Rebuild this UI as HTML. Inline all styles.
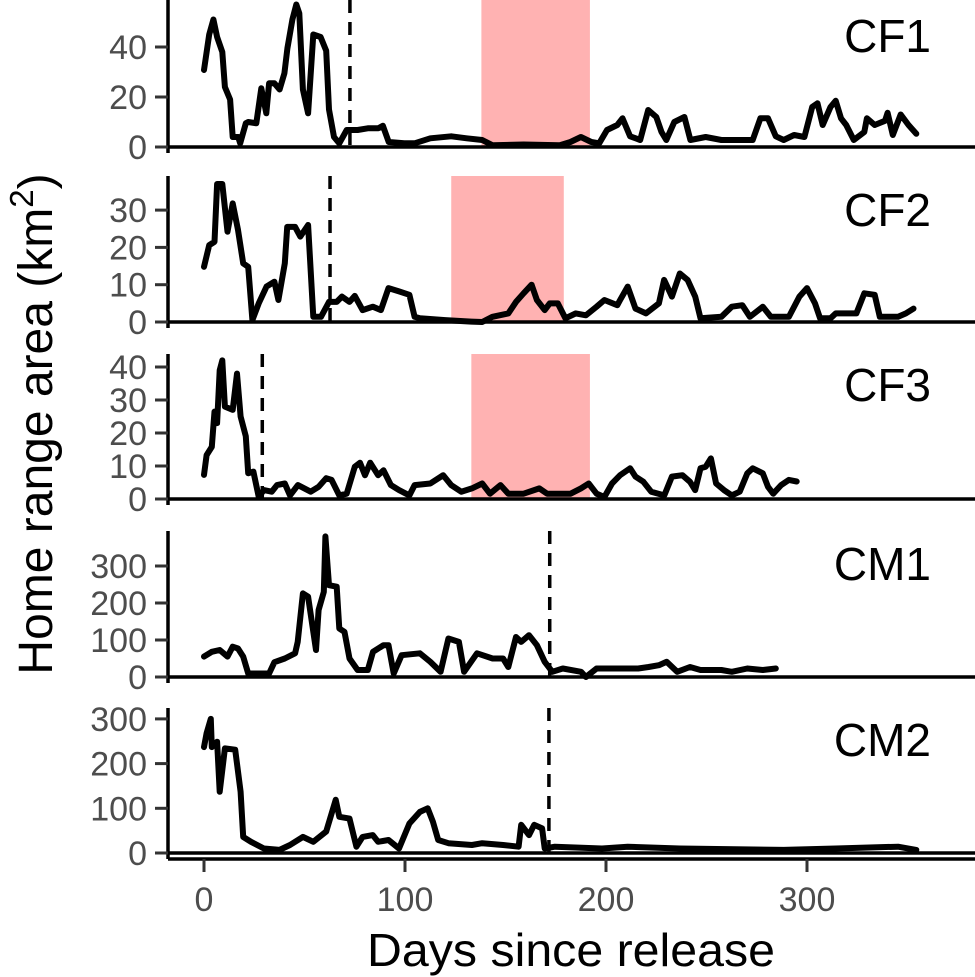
<!DOCTYPE html>
<html><head><meta charset="utf-8"><style>
html,body{margin:0;padding:0;background:#fff;}
svg{display:block;font-family:"Liberation Sans",Arial,sans-serif;}
</style></head><body>
<svg id="chart" width="975" height="977" viewBox="0 0 975 977" xmlns="http://www.w3.org/2000/svg"></svg>
<script>
const cf1Days=[0,2.6,4.7,6.5,9.1,10.4,13,14.3,17,18,20.8,22,26,28.5,31,32.4,35,37.6,40,41.5,44,45.9,47.4,49.2,51.8,54.4,58,60.8,62.2,64.7,67.3,71,76.4,81.5,86.7,89,91.9,99.6,104.8,112.6,123,130.7,138.4,143.6,159,177,182.3,187.5,192.7,196.6,200.5,205.6,208.2,212,217,221,225,227.6,230,234,239,242,249.6,257.4,273,276.8,280.6,284.5,288.4,293.6,298.7,302.6,305.2,307.8,311.7,314.3,316.9,319.5,323.3,328.5,329.8,333.7,338.8,340.1,342.7,346.6,350.5,354.4];
const cf1Vals=[30.8,45,51,44,38,24,19,4,4,1.5,9.5,10,9.5,23.5,13.5,25.5,25.5,23,29.5,39.5,51,57,53.5,23,13.5,45,44,38.5,15,4,1.5,6.8,6.8,7.5,7.5,8.5,2,1.5,1.5,3.5,4.3,3.5,2.8,0.7,1,0.7,2,4,2,1.5,6.8,8.8,11.5,4.3,2.8,14.8,12,6,2.8,10,12,2.8,4,2.8,2.8,11.5,11.5,4.3,2.8,4.8,4,16,17.5,8.8,16,18.5,11.5,8.8,2.8,6,11.5,8.8,10.5,13.7,4.8,13,8.8,5.3];
const cf2Days=[0,2.6,5.2,6.5,9.1,11.7,14.3,16.9,19.5,22,24.1,27.2,31.1,35,37,40.2,41.4,45.3,47.9,51.8,54.4,58.2,62.2,66,68.6,72.4,75,78.9,84,88,91.8,97,102.2,104.8,107.4,120,133,138.4,143.5,151.4,155.2,159,163,165.6,169.5,172,176,179.8,185,190,195.3,199.2,205.6,207,210.8,214.7,219.9,226.3,228.9,232.8,236.7,240.6,244.4,247,257.4,262.6,267.8,271.6,278,282,291,296.2,300,304,306.5,311.7,314.3,324.6,328.5,333.7,336.2,345.3,349.2,353];
const cf2Vals=[14.8,20.6,21.5,37,37,24.2,31.8,24.7,15.7,14.8,0.5,5,9.5,10.8,5.9,15.7,25.5,25.5,22.9,26,1.4,1.4,5.4,5.4,6.8,5.4,7,3.2,4.1,3.2,9.1,8.2,7.3,1.4,1,0.5,0.1,0,1.4,2.3,5.4,7.7,10,5.9,3.2,5,5,1,2.3,1.8,4.1,5.9,4.5,5.9,9.5,3.6,2.3,5,11.3,6.8,13,11.3,6.8,1,1.4,4.1,4.5,1.4,4.1,1.4,1.4,6.8,9.1,5,1,1,2.3,2.3,7.7,7.3,1.4,1.4,2.3,3.6];
const cf3Days=[0,1.3,3.9,5.2,6.5,7.8,9.1,10.4,14.3,16.4,18.2,20.8,22,24.6,27.2,29.8,33.7,36.3,40.2,42.8,46.7,53.1,57,60.8,63.5,67.3,71,75,77.6,80.1,82.7,86.6,89.3,93,97,102.2,104.8,112.6,119,123,128,133.3,138.4,142.3,147.5,151.4,159,166.8,170.7,182.4,187.5,191.4,195.3,199.2,203,207,212,214.7,218.6,222.5,229,232.8,238,241.8,244.4,247,249.6,252.2,254.8,258.7,262.6,266.5,270.3,273,278,280.6,283.2,287.1,291,294.9];
const cf3Vals=[7.3,13.3,15.8,26.5,23,39,42,28,27,38,25,19,7.8,8.3,0.7,2.7,2.2,4.2,4.7,1.1,4.2,2.2,3.7,6.3,5.8,1.1,1.6,9.8,11,7.2,11,7.2,8.7,4.2,2.7,1.1,4.2,4.7,7.2,4.2,2.2,3.2,4.7,1.6,4.2,1.6,1.6,3.2,1.6,1.6,3.2,4.7,1.6,0.6,4.7,7.2,9.3,6.8,5.2,2.2,1.1,6.8,7.2,5.2,2.7,9.3,9.8,12.3,4.7,2.7,1.1,2.2,7.8,9.3,7.8,3.7,1.6,4.2,5.8,5.3];
const cm1Days=[0,3.9,7.8,11.7,14.3,16.9,19.5,22,32.4,35,40.2,45.3,46.6,49.2,51.8,55.7,57,59.6,60.4,62.2,66,67.3,69.9,72.4,76.4,81.5,84.1,89.3,91.8,94.4,98.3,107.4,112.6,117.7,121.6,126.8,129.4,135.8,143.6,148.8,151.4,155.2,157.8,161.7,165.6,169.5,173.3,178.5,187.6,190,195.3,205.6,216,221.2,226.3,230.2,235.4,241.8,247,257.4,262.6,270.3,278,284.5];
const cm1Vals=[55,68,73,55,82,77,55,9.5,9.5,40,50,64,95,226,217,73,181,230,380,248,244,131,122,50,19,19,68,86,86,9.5,59,64,41,14,104,95,14,64,50,50,27,108,95,113,86,41,14,23,14,0,23,23,23,27,32,41,14,27,19,19,14,23,19,23];
const cm2Days=[0,1.3,3.4,3.9,6.5,7.8,10.4,15.5,18.2,19.5,23.4,29.8,37.6,42.8,49.2,54.4,60.8,65.5,67.3,72.4,75.8,78.9,84,86.6,91.8,97,102.2,107.4,111.3,113.9,116.5,121.6,133.3,138.4,148.8,156.5,157.8,161.7,164.3,168.2,169.5,174.6,198,210.8,236.7,288.4,314.3,345.3,354.4];
const cm2Vals=[237,268,300,237,249,137,234,231,137,36,25,10,7,18,36,25,48,119,81,77,14,36,40,25,29,10,66,92,100,70,29,22,18,22,18,14,63,40,63,55,10,14,10,14,10,7,10,14,7];
const xTicks=[0,100,200,300];
const panelNames=["CF1","CF2","CF3","CM1","CM2"];
const cf1Ticks=[0,20,40], cf2Ticks=[0,10,20,30], cf3Ticks=[0,10,20,30,40], cm1Ticks=[0,100,200,300], cm2Ticks=[0,100,200,300];
const shadeStart=[138,123,133], shadeEnd=[192,179,192];
const dashDays=[72.6,62.7,29,172,171.6];

const NS="http://www.w3.org/2000/svg";
const svg=document.getElementById('chart');
function mk(tag,attrs,parent){const e=document.createElementNS(NS,tag);for(const k in attrs)e.setAttribute(k,attrs[k]);(parent||svg).appendChild(e);return e;}
const xPos=d=>204+2.01*d;
const panels=[
 {top:0,bottom:147,k:2.5,days:cf1Days,vals:cf1Vals,ticks:cf1Ticks,ly:52},
 {top:176,bottom:322,k:3.73,days:cf2Days,vals:cf2Vals,ticks:cf2Ticks,ly:226},
 {top:354,bottom:499,k:3.3,days:cf3Days,vals:cf3Vals,ticks:cf3Ticks,ly:401},
 {top:531,bottom:677,k:0.37,days:cm1Days,vals:cm1Vals,ticks:cm1Ticks,ly:580},
 {top:708,bottom:853,k:0.447,days:cm2Days,vals:cm2Vals,ticks:cm2Ticks,ly:756}
];
panels.forEach((p,i)=>{
  const g=mk('g',{});
  
  
  const yPos=v=>p.bottom-p.k*v;
  if(i<3){
    const r=mk('rect',{x:xPos(shadeStart[i]),y:p.top,width:xPos(shadeEnd[i])-xPos(shadeStart[i]),height:p.bottom-p.top,fill:'#ffb2b2'},g);
    
    
  }
  let d='';
  p.days.forEach((dd,j)=>{d+=(j?'L':'M')+xPos(dd).toFixed(1)+','+yPos(p.vals[j]).toFixed(1);});
  const path=mk('path',{d:d,fill:'none',stroke:'#000','stroke-width':6,'stroke-linejoin':'round','stroke-linecap':'round'},g);
  
  
  const dl=mk('line',{x1:xPos(dashDays[i]),x2:xPos(dashDays[i]),y1:p.top,y2:p.bottom+6,stroke:'#000','stroke-width':3.5,'stroke-dasharray':'13,9'},g);
  
  
  const ax=mk('line',{x1:168,x2:975,y1:p.bottom,y2:p.bottom,stroke:'#000','stroke-width':3.5},g);
  
  
  const ay=mk('line',{x1:168,x2:168,y1:p.top,y2:p.bottom+6,stroke:'#000','stroke-width':3.5},g);
  
  
  p.ticks.forEach(t=>{
    const tm=mk('line',{x1:155,x2:168,y1:yPos(t),y2:yPos(t),stroke:'#333','stroke-width':3},g);
    
    
    const tl=mk('text',{x:147,y:yPos(t)+12,'text-anchor':'end','font-size':34,fill:'#4d4d4d'},g);
    tl.textContent=t;
    
    
  });
  const lab=mk('text',{x:931,y:p.ly,'text-anchor':'end','font-size':46,fill:'#000'},g);
  lab.textContent=panelNames[i];
  
  
});
const bx=mk('line',{x1:168,x2:975,y1:859,y2:859,stroke:'#000','stroke-width':3.5});


xTicks.forEach(t=>{
  const tm=mk('line',{x1:xPos(t),x2:xPos(t),y1:859,y2:872,stroke:'#333','stroke-width':3});
  
  
  const tl=mk('text',{x:xPos(t),y:911,'text-anchor':'middle','font-size':34,fill:'#4d4d4d'});
  tl.textContent=t;
  
  
});
const xt=mk('text',{x:571,y:966,'text-anchor':'middle','font-size':46,fill:'#000',textLength:408,lengthAdjust:'spacingAndGlyphs'});
xt.textContent='Days since release';


const yt=mk('text',{x:0,y:0,'text-anchor':'middle','font-size':48,fill:'#000',transform:'translate(52,424) rotate(-90)'});


yt.appendChild(document.createTextNode('Home range area (km'));
const sup=mk('tspan',{'font-size':33,dy:-19},yt);
sup.textContent='2';
const cl=mk('tspan',{dy:19},yt);
cl.textContent=')';
</script>
</body></html>
